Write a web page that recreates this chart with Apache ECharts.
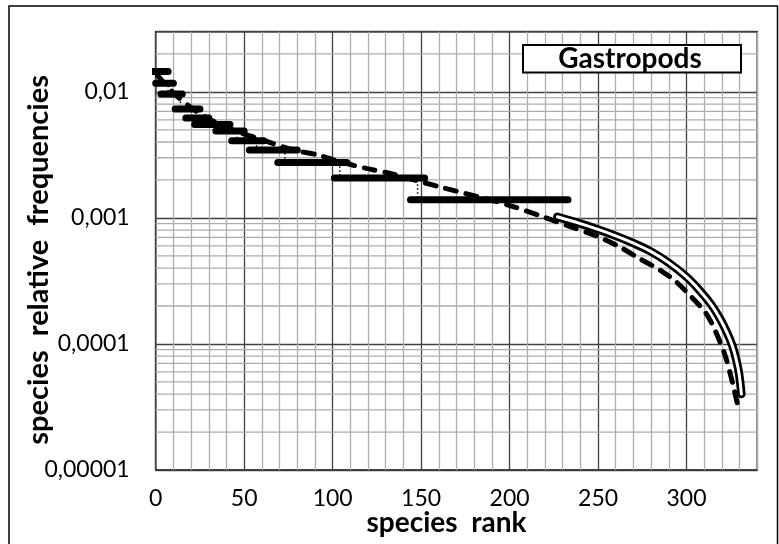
<!DOCTYPE html>
<html>
<head>
<meta charset="utf-8">
<script src="https://cdn.jsdelivr.net/npm/echarts@6/dist/echarts.min.js"></script>
<style>
html,body{margin:0;padding:0;background:#fff;}
#chart{width:779px;height:544px;}
</style>
</head>
<body>
<div id="chart"></div>
<script>
// ---- Data ----
// Observed plateaus (species sharing the same relative frequency)
const stepStart = [-3, 0, 3, 11, 17, 22, 34, 43, 53, 69, 101, 144];
const stepEnd   = [7, 10, 15, 25, 30, 42, 50, 61, 80, 108, 152, 233];
const stepFreq  = [0.0145, 0.0117, 0.0096, 0.0073, 0.0062, 0.0055, 0.0049, 0.0041, 0.00345, 0.00275, 0.00207, 0.00139];
// ranks where the dotted connector jumps from one plateau to the next
const stepBreaks = [3, 7, 14, 20, 26, 38, 46, 57, 73, 104, 148];

// Dashed model curve
const modelRank = [1, 10, 20, 30, 45, 58, 78, 92, 104, 119, 132, 160, 189, 202, 219, 234, 249, 262, 273, 285, 294, 302.5, 311, 316.5, 322, 326, 329.5];
const modelFreq = [0.0135, 0.0098, 0.0075, 0.0061, 0.0049, 0.00426, 0.00345, 0.00315, 0.00279, 0.00247, 0.00226, 0.00177, 0.00139, 0.00123, 0.00102, 0.000855, 0.000719, 0.000591, 0.000479, 0.000386, 0.000312, 0.000238, 0.000175, 0.000125, 0.0000794, 0.0000492, 0.00003];

// Double-line (fitted tail) curve
const fitRank = [227, 240, 250, 260, 270, 280, 290, 300, 308, 314, 319, 323, 326, 328, 329.7, 331];
const fitFreq = [0.00102, 0.0009, 0.00081, 0.00072, 0.00063, 0.00054, 0.00044, 0.00034, 0.00026, 0.000205, 0.000158, 0.000122, 0.000096, 0.000076, 0.000058, 0.00004];

// Axis ticks
const xMin = 0, xMax = 340;
const xMajorTicks = [0, 50, 100, 150, 200, 250, 300];
const yMajorTicks = [0.00001, 0.0001, 0.001, 0.01];
const yMinorMantissa = [2, 3, 4, 5, 6, 7, 8, 9];
const titleText = 'Gastropods';
const xName = 'species  rank';
const yName = 'species  relative  frequencies';

// ---- Build series data ----
const stepData = [];
for (let i = 0; i < stepFreq.length; i++) {
  stepData.push([stepStart[i], stepFreq[i]]);
  stepData.push([stepEnd[i], stepFreq[i]]);
  stepData.push([stepEnd[i], '-']);
}
const connData = [[stepStart[0], stepFreq[0]]];
for (let i = 1; i < stepFreq.length; i++) connData.push([stepBreaks[i - 1], stepFreq[i]]);
connData.push([stepEnd[stepEnd.length - 1], stepFreq[stepFreq.length - 1]]);

const modelData = modelRank.map((r, i) => [r, modelFreq[i]]);
const fitData = fitRank.map((r, i) => [r, fitFreq[i]]);

// minor horizontal grid lines (2..9 x 10^k), drawn through the axis scale
const minorGridData = [];
yMajorTicks.forEach(p => {
  yMinorMantissa.forEach(m => {
    const v = +(m * p).toPrecision(3);
    if (v < 0.03) {
      minorGridData.push([xMin, v], [xMax, v], [xMax, '-']);
    }
  });
});

const FONT = 'Lato';
const chart = echarts.init(document.getElementById('chart'), null, {renderer: 'canvas'});
chart.setOption({
  animation: false,
  backgroundColor: '#fff',
  grid: {
    left: 155.7, right: 21.7, top: 31.7, bottom: 74,
    outerBoundsMode: 'none', containLabel: false,
    show: true, borderColor: '#000', borderWidth: 1.5, backgroundColor: 'transparent'
  },
  xAxis: {
    type: 'value', min: xMin, max: xMax, interval: 10,
    name: xName, nameLocation: 'middle', nameGap: 39, nameMoveOverlap: false,
    nameTextStyle: {fontFamily: FONT, fontWeight: 'bold', fontSize: 28, color: '#000', padding: [0, 20, 0, 0]},
    axisLine: {show: false}, axisTick: {show: false},
    axisLabel: {
      interval: 0, margin: 17, color: '#000', fontFamily: FONT, fontSize: 23,
      formatter: v => (xMajorTicks.indexOf(v) >= 0 ? String(v) : '')
    },
    splitLine: {show: true, lineStyle: {color: ['#404040', '#adadad', '#adadad', '#adadad', '#adadad'], width: 1.3}}
  },
  yAxis: {
    type: 'log', logBase: 10, min: 0.00001, max: 0.03,
    name: yName, nameLocation: 'middle', nameGap: 103, nameRotate: 90, nameMoveOverlap: false,
    nameTextStyle: {fontFamily: FONT, fontWeight: 'bold', fontSize: 29, color: '#000', padding: [0, 18, 0, 0]},
    axisLine: {show: false}, axisTick: {show: false},
    axisLabel: {
      margin: 26, color: '#000', fontFamily: FONT, fontSize: 23,
      formatter: function (v) {
        const e = Math.log10(v);
        if (Math.abs(e - Math.round(e)) > 1e-6) return '';
        return v.toFixed(-Math.round(e)).replace('.', ',');
      }
    },
    splitLine: {show: true, lineStyle: {color: '#404040', width: 1.3}}
  },
  graphic: [
    {type: 'rect', shape: {x: 9, y: 6, width: 768.5, height: 560}, style: {fill: 'none', stroke: '#000', lineWidth: 1.5}, z: 100, silent: true},
    {type: 'rect', shape: {x: 523, y: 45, width: 218, height: 27.5}, style: {fill: '#fff', stroke: '#000', lineWidth: 2}, z: 100},
    {type: 'text', x: 630, y: 59, style: {text: titleText, fill: '#000', font: 'bold 28px Lato', textAlign: 'center', textVerticalAlign: 'middle'}, z: 101}
  ],
  series: [
    {
      name: 'minor-grid', type: 'line', data: minorGridData, showSymbol: false, connectNulls: false, silent: true, z: 1,
      lineStyle: {color: '#adadad', width: 1.3}
    },
    {
      name: 'connector', type: 'line', data: connData, step: 'end', showSymbol: false, z: 2,
      lineStyle: {color: '#000', width: 1.5, type: [1.5, 2.5]}
    },
    {
      name: 'observed', type: 'line', data: stepData, showSymbol: false, connectNulls: false, clip: false, z: 3,
      lineStyle: {color: '#000', width: 7, cap: 'round'}
    },
    {
      name: 'model', type: 'line', data: modelData, showSymbol: false, smooth: 0.3, z: 4,
      lineStyle: {color: '#000', width: 5, type: [11, 10], cap: 'round'}
    },
    {
      name: 'fit-outer', type: 'line', data: fitData, showSymbol: false, smooth: 0.4, z: 5,
      lineStyle: {color: '#000', width: 8.5, cap: 'round'}
    },
    {
      name: 'fit-inner', type: 'line', data: fitData, showSymbol: false, smooth: 0.4, z: 6,
      lineStyle: {color: '#fff', width: 3, cap: 'round'}
    }
  ]
});
</script>
</body>
</html>
